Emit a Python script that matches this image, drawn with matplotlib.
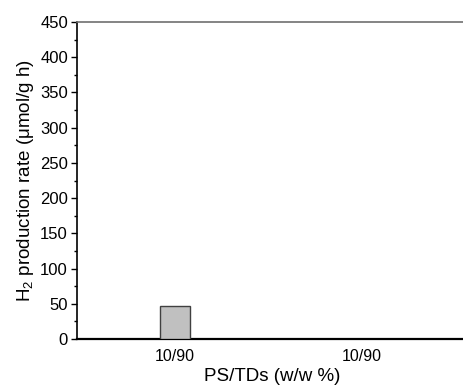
import matplotlib
matplotlib.use("Agg")
import matplotlib.pyplot as plt
from matplotlib.ticker import MultipleLocator

plt.rcParams['font.family'] = ['Liberation Sans', 'DejaVu Sans']
plt.rcParams['mathtext.fontset'] = 'custom'
plt.rcParams['mathtext.rm'] = 'Liberation Sans'
plt.rcParams['mathtext.it'] = 'Liberation Sans:italic'

categories = ["10/90", "10/90"]
rates = [47, 0]

fig = plt.figure(figsize=(4.63, 3.90), dpi=100)
ax = fig.add_axes([77/463, 1 - 339/390, (463 - 77)/463 + 0.01, (339 - 22)/390])

x = list(range(len(categories)))
ax.bar(x[:1], rates[:1], width=0.16, color="#c0c0c0", edgecolor="#404040", linewidth=1.0, zorder=3)

ax.set_xlim(-0.524, 1.54 + 0.01 * 463 / 187)
ax.set_ylim(0, 450)
ax.set_xticks(x)
ax.set_xticklabels(categories)
ax.tick_params(axis='x', length=0, pad=7, labelsize=11.5)
ax.yaxis.set_major_locator(MultipleLocator(50))
ax.yaxis.set_minor_locator(MultipleLocator(25))
ax.tick_params(axis='y', which='major', direction='out', length=4.5, width=1, labelsize=12, pad=2)
ax.tick_params(axis='y', which='minor', direction='out', length=2.5, width=1)

ax.spines['right'].set_visible(False)
ax.spines['top'].set_color('#707070')
ax.spines['top'].set_linewidth(1.2)
ax.spines['bottom'].set_linewidth(1.6)
ax.spines['left'].set_linewidth(1.2)

ax.set_xlabel("PS/TDs (w/w %)", fontsize=13.5, labelpad=3)
ax.set_ylabel("H$_2$ production rate (μmol/g h)", fontsize=13.5, labelpad=3)

fig.savefig("out.png", dpi=100)
